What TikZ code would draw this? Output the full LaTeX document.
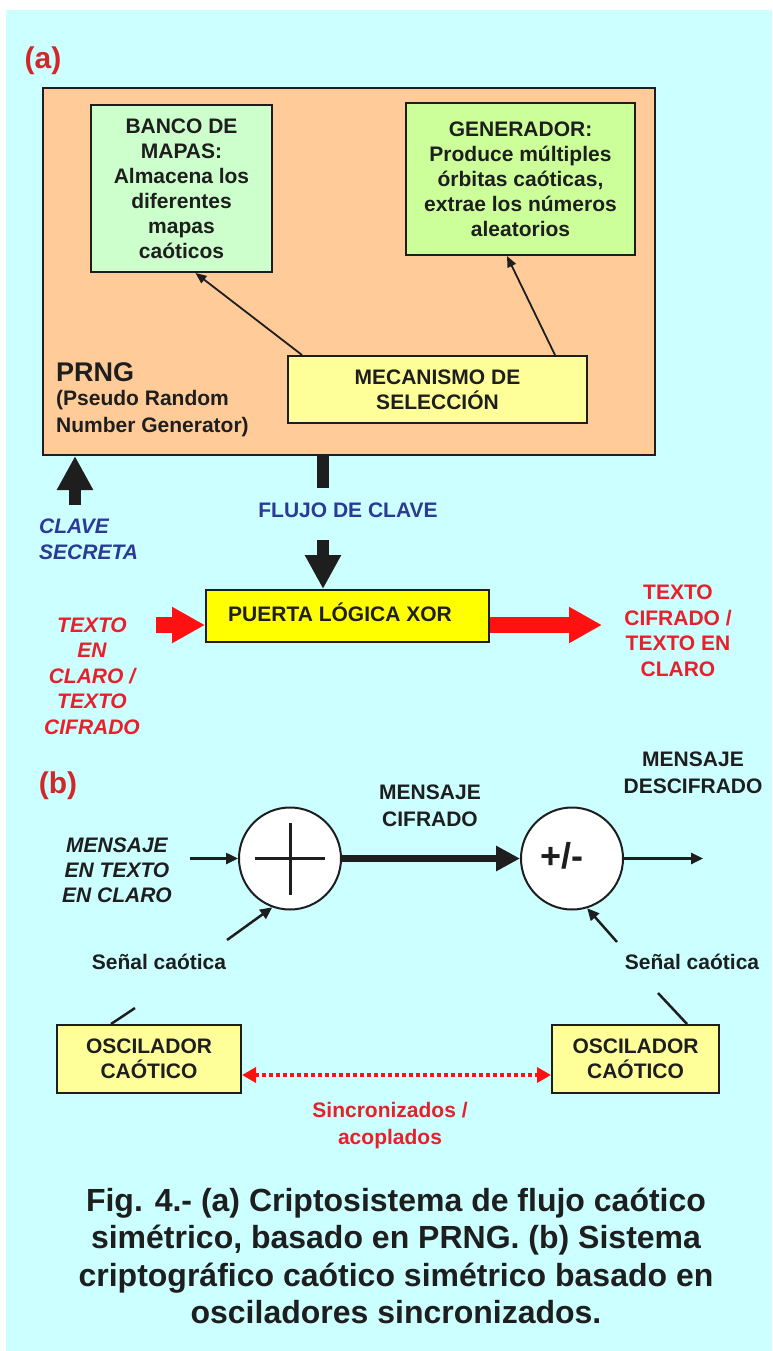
\documentclass[tikz,border=0pt]{standalone}
\usepackage{fontspec}
\setmainfont{Liberation Sans}
\usetikzlibrary{arrows.meta,calc}
\definecolor{bgcyan}{HTML}{CCFFFF}
\definecolor{orng}{HTML}{FFCC99}
\definecolor{mint}{HTML}{CCFFCC}
\definecolor{lime}{HTML}{CCFF99}
\definecolor{paley}{HTML}{FFFF99}
\definecolor{ylw}{HTML}{FFFF00}
\definecolor{rd}{HTML}{FF1111}
\definecolor{txtred}{HTML}{E8202A}
\definecolor{navy}{HTML}{2B3A94}
\definecolor{ink}{HTML}{1E1E1E}
\definecolor{labred}{HTML}{D02828}
\tikzset{
  boxst/.style={draw=ink, line width=2pt, inner sep=0pt, align=center, text=ink,
    font=\bfseries\fontsize{21}{25}\selectfont},
  lbl/.style={inner sep=0pt, align=center, font=\bfseries\fontsize{21}{26}\selectfont},
  thinar/.style={draw=ink, line width=1.8pt, -{Triangle[width=9pt,length=11pt]}},
  thinbr/.style={draw=ink, line width=2.5pt, -{Triangle[width=11pt,length=12pt]}},
  fatar/.style={draw=ink, line width=12pt, -{Triangle[width=34pt,length=34pt]}},
  redar/.style={draw=rd, line width=16pt, -{Triangle[width=34pt,length=33pt]}},
  circst/.style={circle, draw=ink, line width=2pt, fill=white, minimum size=102pt, inner sep=0pt},
}
\begin{document}
\begin{tikzpicture}[x=1pt,y=-1pt]
\fill[white] (0,0) rectangle (772,1351);
\fill[bgcyan] (6,10) rectangle (772,1351);

% ---------- (a) ----------
\node[text=labred, font=\bfseries\fontsize{30}{30}\selectfont, inner sep=0pt] (la) at (43,61) {(a)};
\node[boxst, fill=orng, minimum width=612pt, minimum height=367pt] (prng) at (349,271.5) {};
\node[boxst, fill=mint, minimum width=181pt, minimum height=167pt] (banco) at (181.5,188.5)
  {BANCO DE\\MAPAS:\\Almacena los\\diferentes\\mapas\\caóticos};
\node[boxst, fill=lime, minimum width=229pt, minimum height=152pt] (gen) at (520.5,179)
  {GENERADOR:\\Produce múltiples\\órbitas caóticas,\\extrae los números\\aleatorios};
\node[boxst, fill=paley, minimum width=299pt, minimum height=67pt] (mec) at (437.5,389.5)
  {MECANISMO DE\\SELECCIÓN};
\node[anchor=west, inner sep=0pt, text=ink, font=\bfseries\fontsize{27}{30}\selectfont] (prt) at (56,372) {PRNG};
\node[anchor=west, inner sep=0pt, text=ink, font=\bfseries\fontsize{21}{25}\selectfont] (prs1) at (56,400) {(Pseudo Random};
\node[anchor=west, inner sep=0pt, text=ink, font=\bfseries\fontsize{21}{25}\selectfont] (prs2) at (56,427) {Number Generator)};
\draw[thinar] ([xshift=15pt]mec.north west) -- ([xshift=14pt]banco.south);
\draw[thinar] ([xshift=-33pt]mec.north east) -- ([xshift=-13.5pt]gen.south);

% clave secreta
\coordinate (ck) at (75,505);
\draw[fatar] (ck) -- (ck |- prng.south);
\node[lbl, align=left, anchor=west, text=navy, font=\bfseries\itshape\fontsize{21}{26}\selectfont] (cs) at (39,539) {CLAVE\\SECRETA};

% flujo de clave
\node[boxst, fill=ylw, minimum width=283pt, minimum height=52pt] (xor) at (347.5,616) {};
\node[inner sep=0pt, text=ink, font=\bfseries\fontsize{21}{25}\selectfont] (xort) at (340,612) {PUERTA LÓGICA XOR};
\coordinate (kx) at (323,0);
\draw[draw=ink, line width=12pt] (prng.south -| kx) -- ++(0,32);
\node[lbl, text=navy] (flujo) at (348,510) {FLUJO DE CLAVE};
\coordinate (ks) at (323,540);
\draw[fatar] (ks) -- (ks |- xor.north);

% red text arrows
\coordinate (rin) at (156,625);
\draw[redar] (rin) -- (rin -| xor.west);
\coordinate (rout) at (602,625);
\draw[redar] (rout -| xor.east) -- (rout);
\node[lbl, text=txtred, font=\bfseries\itshape\fontsize{21}{25.5}\selectfont] (tin) at (92,676)
  {TEXTO\\EN\\CLARO /\\TEXTO\\CIFRADO};
\node[lbl, text=txtred, font=\bfseries\fontsize{21}{25.5}\selectfont] (tout) at (678,631)
  {TEXTO\\CIFRADO /\\TEXTO EN\\CLARO};

% ---------- (b) ----------
\node[text=labred, font=\bfseries\fontsize{30}{30}\selectfont, inner sep=0pt] (lb) at (58,786) {(b)};
\node[lbl, text=ink, font=\bfseries\fontsize{21}{27}\selectfont] (md) at (693,773) {MENSAJE\\DESCIFRADO};
\node[lbl, text=ink, font=\bfseries\fontsize{21}{27}\selectfont] (mc) at (430,806) {MENSAJE\\CIFRADO};
\node[lbl, text=ink, font=\bfseries\itshape\fontsize{21}{25}\selectfont] (mt) at (117,870) {MENSAJE\\EN TEXTO\\EN CLARO};

\node[circst] (c1) at (290,858.5) {};
\draw[draw=ink, line width=3pt] ([xshift=-35pt]c1.center) -- ([xshift=35pt]c1.center);
\draw[draw=ink, line width=3pt] ([yshift=-36pt]c1.center) -- ([yshift=36pt]c1.center);
\node[circst] (c2) at (572,858.5) {};
\node[inner sep=0pt, text=ink, font=\bfseries\fontsize{36}{36}\selectfont] (pm) at (562,856) {+/-};

\draw[draw=ink, line width=7pt, -{Triangle[width=24pt,length=24pt]}] (c1.east) -- (c2.west);
\coordinate (min) at (190,858.5);
\draw[thinbr] (min) -- (c1.west);
\coordinate (mout) at (703,858.5);
\draw[thinbr] (c2.east) -- (mout);

\coordinate (s1) at (227,940);
\draw[thinbr] (s1) -- (c1.250);
\coordinate (s2) at (617,942);
\draw[thinbr] (s2) -- (c2.287);
\node[lbl, text=ink] (sl1) at (159,962) {Señal caótica};
\node[lbl, text=ink] (sl2) at (692,962) {Señal caótica};

\node[boxst, fill=paley, minimum width=184pt, minimum height=68pt, font=\bfseries\fontsize{21}{25.5}\selectfont] (osc1) at (149,1059) {OSCILADOR\\CAÓTICO};
\node[boxst, fill=paley, minimum width=167pt, minimum height=68pt, font=\bfseries\fontsize{21}{25.5}\selectfont] (osc2) at (635.5,1059) {OSCILADOR\\CAÓTICO};
\coordinate (o1) at (135,1008);
\draw[draw=ink, line width=2.5pt] ([xshift=-38pt]osc1.north) -- (o1);
\coordinate (o2) at (658,993);
\draw[draw=ink, line width=2.5pt] ([xshift=51.5pt]osc2.north) -- (o2);

\draw[draw=rd, line width=4pt, dash pattern=on 4pt off 3pt,
  {Triangle[width=15pt,length=14pt]}-{Triangle[width=15pt,length=14pt]}]
  ([yshift=-16pt]osc1.east) -- ([yshift=-16pt]osc2.west);
\node[lbl, text=txtred, font=\bfseries\fontsize{21}{27}\selectfont] (sync) at (390,1126) {Sincronizados /\\acoplados};

% caption
\node[inner sep=0pt, align=center, text=ink, font=\bfseries\fontsize{32}{37.5}\selectfont] (cap) at (396,1256)
  {Fig. 4.- (a) Criptosistema de flujo caótico\\simétrico, basado en PRNG. (b) Sistema\\criptográfico caótico simétrico basado en\\osciladores sincronizados.};
\end{tikzpicture}
\end{document}
